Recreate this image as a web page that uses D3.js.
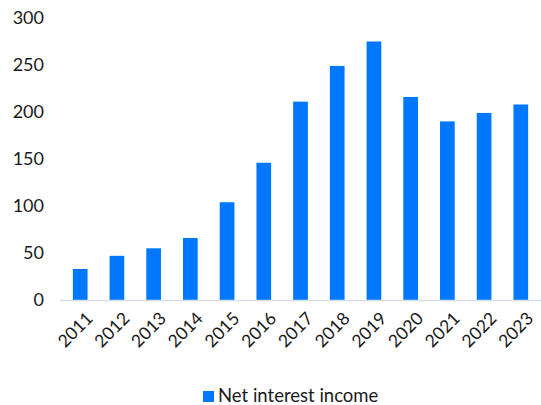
<!DOCTYPE html>
<html>
<head>
<meta charset="utf-8">
<script src="https://cdn.jsdelivr.net/npm/d3@7"></script>
<style>
  body { margin: 0; background: #fff; }
  svg { font-family: Lato, "Open Sans", sans-serif; }
</style>
</head>
<body>
<svg id="drawing_region"></svg>
<script>
const years = ['2011','2012','2013','2014','2015','2016','2017','2018','2019','2020','2021','2022','2023'];
const netInterestIncome = [33, 47, 55, 66, 104, 146, 211, 249, 275, 216, 190, 199, 208];
const yTicks = [0, 50, 100, 150, 200, 250, 300];
const seriesName = 'Net interest income';

const width = 541, height = 405;
const margin = {top: 18, right: 0, bottom: 105, left: 60};
const inner_width = width - margin.left - margin.right;

const svg = d3.select('#drawing_region')
    .attr('width', width)
    .attr('height', height);

const chart = svg.append('g')
    .attr('transform', `translate(${margin.left}, ${margin.top})`);

const xscale = d3.scaleBand()
    .domain(years)
    .range([0, inner_width])
    .paddingInner(0.6)
    .paddingOuter(0.35);

const yscale = d3.scaleLinear()
    .domain([0, 300])
    .range([282, 0]);

// y tick labels
chart.append('g')
    .selectAll('text')
    .data(yTicks)
    .join('text')
    .attr('x', -16)
    .attr('y', d => yscale(d))
    .attr('dy', '0.35em')
    .attr('text-anchor', 'end')
    .attr('font-size', '18px')
    .attr('fill', '#1a1a1a')
    .text(d => d);

// bars
chart.selectAll('rect.bar')
    .data(netInterestIncome)
    .join('rect')
    .attr('class', 'bar')
    .attr('x', (d, i) => xscale(years[i]))
    .attr('y', d => yscale(d))
    .attr('width', xscale.bandwidth())
    .attr('height', d => yscale(0) - yscale(d))
    .attr('fill', '#0077ff');

// baseline
chart.append('line')
    .attr('x1', 0)
    .attr('x2', inner_width)
    .attr('y1', yscale(0) + 0.5)
    .attr('y2', yscale(0) + 0.5)
    .attr('stroke', '#d8dde3')
    .attr('stroke-width', 1.5);

// x tick labels
chart.append('g')
    .selectAll('text')
    .data(years)
    .join('text')
    .attr('transform', d => `translate(${xscale(d) + xscale.bandwidth() / 2 + 5}, ${yscale(0) + 11}) rotate(-45)`)
    .attr('text-anchor', 'end')
    .attr('dy', '0.7em')
    .attr('font-size', '17.5px')
    .attr('fill', '#1a1a1a')
    .text(d => d);

// legend
const legend = svg.append('g')
    .attr('transform', 'translate(203, 391)');

legend.append('rect')
    .attr('width', 11)
    .attr('height', 11)
    .attr('fill', '#0077ff');

legend.append('text')
    .attr('x', 15)
    .attr('y', 11)
    .attr('font-size', '18.5px')
    .attr('fill', '#1a1a1a')
    .text(seriesName);
</script>
</body>
</html>
